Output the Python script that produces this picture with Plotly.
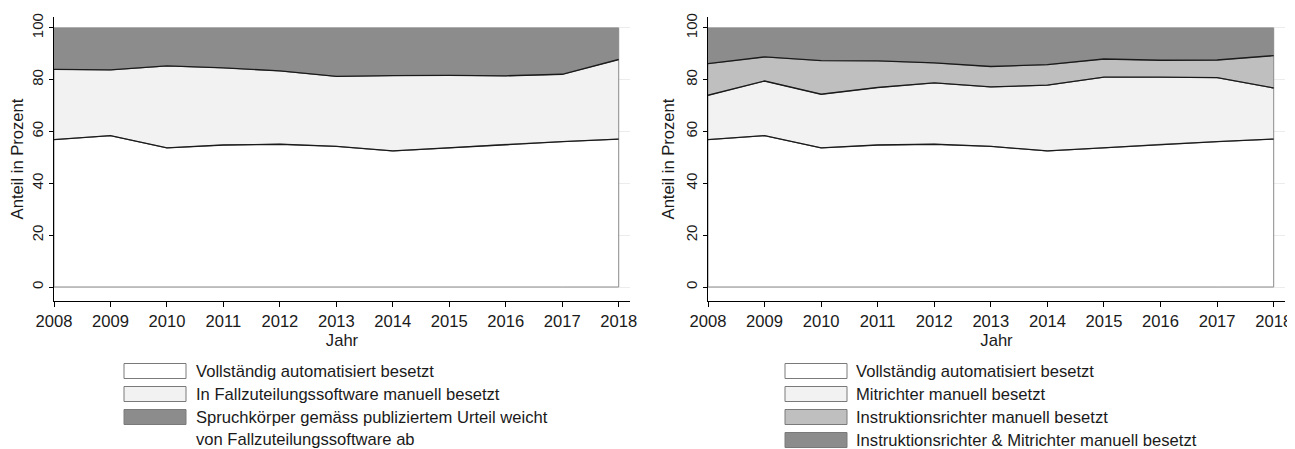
import numpy as np
import plotly.graph_objects as go

years = [2008, 2009, 2010, 2011, 2012, 2013, 2014, 2015, 2016, 2017, 2018]

# Left panel shares (%)
left_auto = [56.9, 58.4, 53.7, 54.8, 55.1, 54.3, 52.5, 53.7, 55.1, 56.1, 57.1]
left_manual_sw = [27.1, 25.4, 31.6, 29.8, 28.3, 27.0, 29.1, 28.0, 26.4, 26.0, 30.7]
left_deviates = [16.0, 16.2, 14.7, 15.4, 16.6, 18.7, 18.4, 18.3, 18.5, 17.9, 12.2]

# Right panel shares (%)
right_auto = [56.9, 58.4, 53.7, 54.8, 55.1, 54.3, 52.5, 53.7, 55.1, 56.1, 57.1]
right_mitrichter = [17.1, 21.1, 20.7, 22.2, 23.7, 22.9, 25.4, 27.3, 25.9, 24.7, 19.7]
right_instr = [12.2, 9.3, 13.0, 10.3, 7.7, 7.9, 7.9, 7.0, 6.5, 6.8, 12.5]
right_both = [13.8, 11.2, 12.6, 12.7, 13.5, 14.9, 14.2, 12.0, 12.5, 12.4, 10.7]

left_labels = ["Vollständig automatisiert besetzt",
               "In Fallzuteilungssoftware manuell besetzt",
               "Spruchkörper gemäss publiziertem Urteil weicht<br>von Fallzuteilungssoftware ab"]
right_labels = ["Vollständig automatisiert besetzt",
                "Mitrichter manuell besetzt",
                "Instruktionsrichter manuell besetzt",
                "Instruktionsrichter & Mitrichter manuell besetzt"]

left_colors = ["#ffffff", "#f2f2f2", "#8c8c8c"]
right_colors = ["#ffffff", "#f2f2f2", "#bfbfbf", "#8c8c8c"]

y_ticks = [0, 20, 40, 60, 80, 100]
x_title = "Jahr"
y_title = "Anteil in Prozent"

FONT = "Liberation Sans, Arial, sans-serif"
TXT = "#1a1a1a"
OFF = 8  # page body margin
W, H = 1295 - OFF, 449 - OFF


def px(x):
    return (x - OFF) / W


def py(y):
    return 1 - (y - OFF) / H


fig = go.Figure()


def add_stack(series, colors, xa, ya):
    cum = np.cumsum(np.array(series, dtype=float), axis=0)
    bottoms = np.vstack([np.zeros(len(years)), cum[:-1]])
    xs = list(years) + list(years[::-1])
    for i in range(len(series)):
        ys = list(cum[i]) + list(bottoms[i][::-1])
        fig.add_trace(go.Scatter(x=xs + [xs[0]], y=ys + [ys[0]], fill="toself",
                                 fillcolor=colors[i], mode="lines",
                                 line=dict(color="#8a8a8a", width=1),
                                 xaxis=xa, yaxis=ya, showlegend=False,
                                 hoverinfo="skip"))
    for i in range(len(series) - 1):
        fig.add_trace(go.Scatter(x=years, y=cum[i], mode="lines",
                                 line=dict(color="#1a1a1a", width=1.3),
                                 xaxis=xa, yaxis=ya, showlegend=False,
                                 hoverinfo="skip"))


add_stack([left_auto, left_manual_sw, left_deviates], left_colors, "x", "y")
add_stack([right_auto, right_mitrichter, right_instr, right_both], right_colors, "x2", "y2")

ydom = [py(301), py(17)]
xdom1 = [px(54), px(630)]
xdom2 = [px(708), px(1285)]

xcommon = dict(range=[2008, 2018.2], tickvals=years, ticks="outside", ticklen=5,
               tickcolor="#000", showline=True, linecolor="#000", linewidth=1,
               showgrid=False, zeroline=False, automargin=False,
               tickfont=dict(size=16.6, color=TXT, family=FONT),
               title=dict(text=x_title, font=dict(size=16.6, color=TXT, family=FONT), standoff=0))
ycommon = dict(range=[-5.4, 104.2], tickvals=y_ticks, ticks="outside", ticklen=4,
               tickcolor="#000", showline=True, linecolor="#000", linewidth=1,
               showgrid=True, gridcolor="#ececec", gridwidth=1, zeroline=False,
               automargin=False, tickangle=-90,
               tickfont=dict(size=15, color=TXT, family=FONT),
               title=dict(text=y_title, font=dict(size=16.6, color=TXT, family=FONT), standoff=4))

fig.update_layout(
    width=W, height=H, margin=dict(l=0, r=0, t=0, b=0),
    paper_bgcolor="white", plot_bgcolor="white",
    font=dict(family=FONT, color=TXT),
    xaxis=dict(domain=xdom1, anchor="y", **xcommon),
    yaxis=dict(domain=ydom, anchor="x", **ycommon),
    xaxis2=dict(domain=xdom2, anchor="y2", **xcommon),
    yaxis2=dict(domain=ydom, anchor="x2", **ycommon),
)

# Manual legends
row_y = [371, 394, 417, 440]


def legend(labels, colors, box_x0, text_x):
    for i, (lab, col) in enumerate(zip(labels, colors)):
        cy = row_y[i]
        fig.add_shape(type="rect", xref="paper", yref="paper",
                      x0=px(box_x0), x1=px(box_x0 + 62),
                      y0=py(cy + 7.5), y1=py(cy - 7.5),
                      fillcolor=col, line=dict(color="#7a7a7a", width=1))
        fig.add_annotation(xref="paper", yref="paper", x=px(text_x), y=py(cy - 11),
                           text=lab, showarrow=False, xanchor="left", yanchor="top",
                           align="left", font=dict(size=16.6, color=TXT, family=FONT))


legend(left_labels, left_colors, 124, 194)
legend(right_labels, right_colors, 785, 854)

fig.write_html("out.html")
